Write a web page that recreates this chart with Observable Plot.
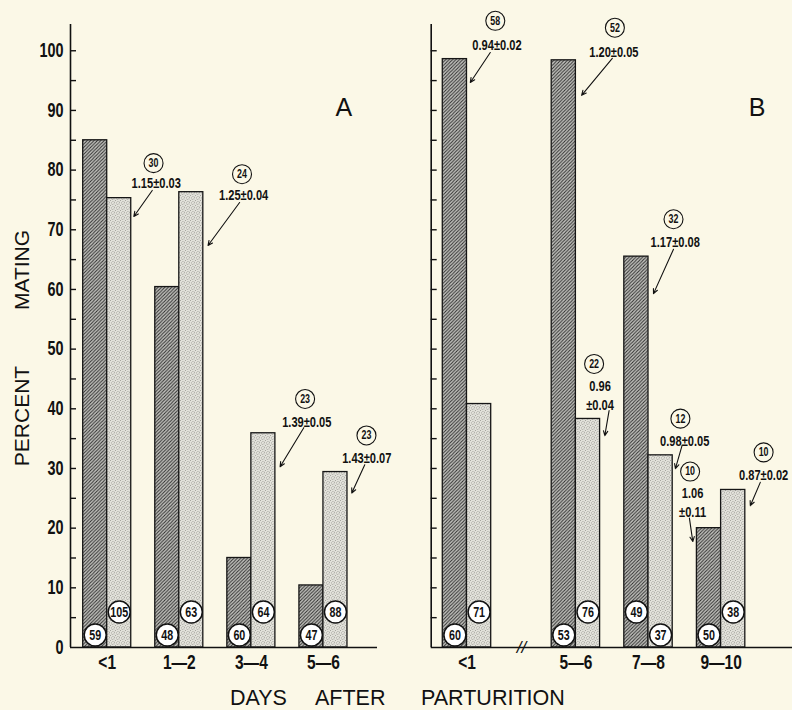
<!DOCTYPE html>
<html>
<head>
<meta charset="utf-8">
<script src="https://cdn.jsdelivr.net/npm/d3@7"></script>
<script src="https://cdn.jsdelivr.net/npm/@observablehq/plot@0.6"></script>
<style>
  html, body { margin: 0; padding: 0; background: #fbf8e7; }
  #wrap { position: relative; width: 792px; height: 710px; overflow: hidden; background: #fbf8e7; color: #111;
          font-family: "Liberation Sans", Arial, Helvetica, sans-serif; }
  #left, #right { position: absolute; top: 0; }
  #left { left: 0; }
  #right { left: 400px; }
  .ylab { position: absolute; left: 22px; transform: translate(-50%, -50%) rotate(-90deg); white-space: nowrap;
          font-size: 21px; }
  .xw { position: absolute; top: 688px; font-size: 21.5px; line-height: 21px; height: 21px; white-space: nowrap; }
</style>
</head>
<body>
<div id="wrap">
  <div id="left"></div>
  <div id="right"></div>
  <div class="ylab" style="top:270px">MATING</div>
  <div class="ylab" style="top:416px">PERCENT</div>
  <div class="xw" style="left:230px">DAYS</div>
  <div class="xw" style="left:315px">AFTER</div>
  <div class="xw" style="left:421px">PARTURITION</div>
</div>
<script>
// ---------------- data ----------------
const panelAGroups = ["<1", "1\u20142", "3\u20144", "5\u20146"];
const panelADark = [85, 60.4, 15, 10.4];
const panelALight = [75.3, 76.3, 35.9, 29.4];
const panelADarkN = [59, 48, 60, 47];
const panelALightN = [105, 63, 64, 88];

const panelBGroups = ["<1", "5\u20146", "7\u20148", "9\u201410"];
const panelBDark = [98.6, 98.4, 65.5, 20];
const panelBLight = [40.8, 38.3, 32.2, 26.4];
const panelBDarkN = [60, 53, 49, 50];
const panelBLightN = [71, 76, 37, 38];
const panelBDarkCircleHigh = [false, false, true, false];

const yTickLabels = [0, 10, 20, 30, 40, 50, 60, 70, 80, 90, 100];
const yMinorTicks = [5, 10, 15, 20, 25, 30, 35, 40, 45, 50, 55, 60, 65, 70, 75, 80, 85, 90, 95, 100];

// circled sample sizes + mean ± SE notes
const annotations = [
  {panel: "A", group: 0, series: "light", n: 30, label: "1.15\u00b10.03"},
  {panel: "A", group: 1, series: "light", n: 24, label: "1.25\u00b10.04"},
  {panel: "A", group: 2, series: "light", n: 23, label: "1.39\u00b10.05"},
  {panel: "A", group: 3, series: "light", n: 23, label: "1.43\u00b10.07"},
  {panel: "B", group: 0, series: "dark", n: 58, label: "0.94\u00b10.02"},
  {panel: "B", group: 1, series: "dark", n: 52, label: "1.20\u00b10.05"},
  {panel: "B", group: 2, series: "dark", n: 32, label: "1.17\u00b10.08"},
  {panel: "B", group: 1, series: "light", n: 22, label: "0.96\n\u00b10.04"},
  {panel: "B", group: 2, series: "light", n: 12, label: "0.98\u00b10.05"},
  {panel: "B", group: 3, series: "dark", n: 10, label: "1.06\n\u00b10.11"},
  {panel: "B", group: 3, series: "light", n: 10, label: "0.87\u00b10.02"}
];

// ---------------- layout (pixel offsets from each bar's top-right corner) ----------------
const annotationLayout = [
  {c: [22.3, -35], t: [25, -15.7], tail: [21, -7.7], head: [2.6, 18.3]},
  {c: [38.7, -18], t: [40.3, 2], tail: [36.3, 10.3], head: [4.7, 53.3]},
  {c: [29.7, -34.3], t: [31.4, -12.3], tail: [28.4, -5.6], head: [4.7, 33.4]},
  {c: [19, -36.6], t: [19.3, -15], tail: [17.3, -7.3], head: [4.3, 21]},
  {c: [28.3, -38.3], t: [30, -15], tail: [23.3, -6.6], head: [3.3, 23.4]},
  {c: [39, -32.6], t: [38, -9.3], tail: [36.4, -2], head: [5.7, 35]},
  {c: [25, -37.4], t: [26.7, -15.7], tail: [25, -7.4], head: [5, 37]},
  {c: [-6, -55], t: [0, -24.5], tail: [9, -8.3], head: [4.7, 16.7]},
  {c: [7.7, -36.7], t: [12, -15.7], tail: [9.4, -10], head: [2.7, 13.3]},
  {c: [-31, -56.6], t: [-28.5, -26.6], tail: [-31.7, -10], head: [-28.3, 13.4]},
  {c: [18.3, -37.6], t: [18.3, -16], tail: [15, -7.6], head: [5, 15.7]}
];

const NARROW = '"Liberation Sans", Arial, sans-serif';
const PLAIN = '"Liberation Sans", Arial, Helvetica, sans-serif';
const CONDENSE = 0.74;
const H = 680, MT = 24, MB = 33, YMAX = 104.4;

const panels = {
  A: {groups: panelAGroups, dark: panelADark, light: panelALight, darkN: panelADarkN, lightN: panelALightN,
      darkHigh: [false, false, false, false], slot: i => 3 * i, width: 400, marginLeft: 70, marginRight: 23,
      xDomain: [-0.528, 12.25], yLabels: true, letter: "A", letterDx: -33.7, breakAt: null, el: "#left"},
  B: {groups: panelBGroups, dark: panelBDark, light: panelBLight, darkN: panelBDarkN, lightN: panelBLightN,
      darkHigh: panelBDarkCircleHigh, slot: i => 3 * i + (i > 0 ? 1.5 : 0), width: 392, marginLeft: 30.7, marginRight: 0,
      xDomain: [-0.479, 14.45], yLabels: false, letter: "B", letterDx: -35.3, breakAt: 3.25, el: "#right"}
};

function build(key) {
  const p = panels[key];
  const kx = (p.xDomain[1] - p.xDomain[0]) / (p.width - p.marginLeft - p.marginRight);
  const ky = YMAX / (H - MT - MB);
  const bars = [];
  p.groups.forEach((g, i) => {
    const s = p.slot(i);
    bars.push({group: g, i, series: "dark", x1: s, x2: s + 1, value: p.dark[i], n: p.darkN[i], high: p.darkHigh[i]});
    bars.push({group: g, i, series: "light", x1: s + 1, x2: s + 2, value: p.light[i], n: p.lightN[i], high: !p.darkHigh[i]});
  });
  const centers = p.groups.map((g, i) => p.slot(i) + 1);
  const labelAt = new Map(centers.map((c, i) => [c, p.groups[i]]));

  const notes = annotations.map((a, k) => ({...a, L: annotationLayout[k]})).filter(a => a.panel === key).map(a => {
    const b = bars.find(d => d.i === a.group && d.series === a.series);
    return {...a, ax: b.x2, ay: b.value};
  });
  const px = (d, o) => d.ax + o[0] * kx;
  const py = (d, o) => d.ay - o[1] * ky;
  const mid = d => (d.x1 + d.x2) / 2;

  const marks = [
    Plot.rect(bars.filter(d => d.series === "dark"), {x1: "x1", x2: "x2", y1: () => 0, y2: "value",
      fill: "url(#hatch" + key + ")", stroke: "#161616", strokeWidth: 1.3}),
    Plot.rect(bars.filter(d => d.series === "light"), {x1: "x1", x2: "x2", y1: () => 0, y2: "value",
      fill: "url(#stipple" + key + ")", stroke: "#161616", strokeWidth: 1.3}),
    Plot.ruleY([0], {stroke: "#111", strokeWidth: 1.6}),
    Plot.ruleX([p.xDomain[0]], {y1: 0, y2: YMAX, stroke: "#111", strokeWidth: 1.6}),
    Plot.axisY({ticks: yMinorTicks, tickSize: -6, tickFormat: () => "", strokeWidth: 1.4, label: null}),
    p.yLabels ? Plot.axisY({ticks: yTickLabels, tickSize: 0, tickPadding: 7, fontSize: 19.5, fontWeight: "bold", fontFamily: NARROW, label: null}) : null,
    Plot.axisX({ticks: centers, tickSize: 0, tickPadding: 7, tickFormat: d => labelAt.get(d), fontSize: 21, fontWeight: "bold", fontFamily: NARROW, label: null}),
    // sample-size circles at the foot of each bar
    Plot.dot(bars.filter(d => !d.high), {x: mid, y: () => 0, dy: -12.5, r: 11, fill: "white", stroke: "#111", strokeWidth: 1.5}),
    Plot.text(bars.filter(d => !d.high), {x: mid, y: () => 0, dy: -12.5, text: d => String(d.n), fontSize: 14.5, fontWeight: "bold", fontFamily: NARROW}),
    Plot.dot(bars.filter(d => d.high), {x: mid, y: () => 0, dy: -35.5, r: 11, fill: "white", stroke: "#111", strokeWidth: 1.5}),
    Plot.text(bars.filter(d => d.high), {x: mid, y: () => 0, dy: -35.5, text: d => String(d.n), fontSize: 14.5, fontWeight: "bold", fontFamily: NARROW}),
    // annotations
    Plot.dot(notes, {x: d => px(d, d.L.c), y: d => py(d, d.L.c), r: 9.5, fill: "none", stroke: "#111", strokeWidth: 1.1}),
    Plot.text(notes, {x: d => px(d, d.L.c), y: d => py(d, d.L.c), text: d => String(d.n), fontSize: 12, fontWeight: "bold", fontFamily: NARROW}),
    Plot.text(notes, {x: d => px(d, d.L.t), y: d => py(d, d.L.t), text: "label", fontSize: 15, fontWeight: "bold", fontFamily: NARROW, lineHeight: 1.25}),
    Plot.arrow(notes, {x1: d => px(d, d.L.tail), y1: d => py(d, d.L.tail), x2: d => px(d, d.L.head), y2: d => py(d, d.L.head),
      stroke: "#111", strokeWidth: 1.1, headLength: 7, headAngle: 50}),
    Plot.text([p.letter], {frameAnchor: "top-right", dx: p.letterDx, dy: 98 - MT, text: d => d, fontSize: 25, fontWeight: "normal",
      fontFamily: PLAIN, textAnchor: "middle"})
  ];
  if (p.breakAt != null) {
    marks.push(Plot.text(["//"], {x: () => p.breakAt, y: () => 0, text: d => d, fontSize: 17, fontWeight: "normal",
      fontStyle: "italic", fontFamily: PLAIN}));
  }

  const svg = Plot.plot({
    width: p.width, height: H,
    marginLeft: p.marginLeft, marginRight: p.marginRight, marginTop: MT, marginBottom: MB,
    x: {domain: p.xDomain},
    y: {domain: [0, YMAX]},
    style: {background: "transparent", color: "#111", fontFamily: NARROW, fontWeight: "bold", overflow: "visible"},
    marks: marks.filter(Boolean)
  });

  // condensed look for the bold numerals (the source uses a condensed grotesque)
  d3.select(svg).selectAll("text").each(function () {
    const host = this.closest("[font-family]");
    if (!host || host.getAttribute("font-family") !== NARROW) return;
    const t = this.getAttribute("transform");
    if (t) this.setAttribute("transform", t + ` scale(${CONDENSE},1)`);
    else {
      const x = +this.getAttribute("x") || 0, y = +this.getAttribute("y") || 0;
      this.removeAttribute("x"); this.removeAttribute("y");
      this.setAttribute("transform", `translate(${x},${y}) scale(${CONDENSE},1)`);
    }
  });

  const defs = d3.select(svg).insert("defs", ":first-child");
  const hatch = defs.append("pattern").attr("id", "hatch" + key).attr("patternUnits", "userSpaceOnUse")
    .attr("width", 3.4).attr("height", 3.4);
  hatch.append("rect").attr("width", 3.4).attr("height", 3.4).attr("fill", "#c4c4bf");
  hatch.append("path").attr("d", "M-0.85,0.85 L0.85,-0.85 M0,3.4 L3.4,0 M2.55,4.25 L4.25,2.55")
    .attr("stroke", "#2e2e2e").attr("stroke-width", 1.05);
  const st = defs.append("pattern").attr("id", "stipple" + key).attr("patternUnits", "userSpaceOnUse")
    .attr("width", 5).attr("height", 5);
  st.append("rect").attr("width", 5).attr("height", 5).attr("fill", "#e3e2db");
  [[0, 0], [2.5, 1], [1, 2.5], [3.5, 3.5], [4, 1.8], [1.8, 4.2]].forEach(([x, y]) =>
    st.append("rect").attr("x", x).attr("y", y).attr("width", 0.9).attr("height", 0.9).attr("fill", "#96968f"));
  document.querySelector(p.el).appendChild(svg);
}
build("A");
build("B");
</script>
</body>
</html>
